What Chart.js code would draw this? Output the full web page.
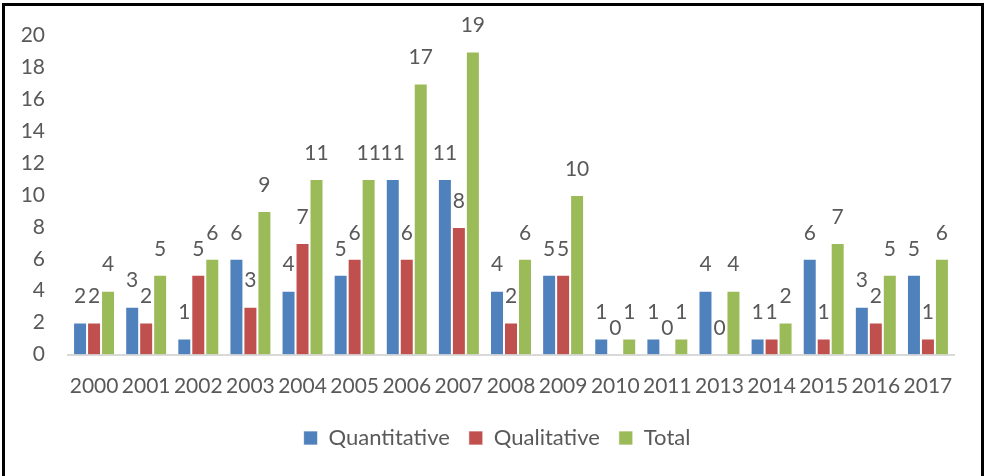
<!DOCTYPE html>
<html>
<head>
<meta charset="utf-8">
<script src="https://cdn.jsdelivr.net/npm/chart.js@4/dist/chart.umd.min.js"></script>
<style>
  html, body { margin: 0; padding: 0; background: #fff; }
  #wrap { position: relative; width: 986px; height: 476px; overflow: hidden; }
  #frame { position: absolute; left: 2px; top: 3px; width: 976px; height: 500px;
           border-left: 3px solid #000; border-top: 3px solid #000; border-right: 3px solid #000; pointer-events: none; }
  canvas { position: absolute; left: 0; top: 0; }
</style>
</head>
<body>
<div id="wrap">
  <canvas id="c" width="986" height="476"></canvas>
  <div id="frame"></div>
</div>
<script>
const categories = ['2000','2001','2002','2003','2004','2005','2006','2007','2008','2009','2010','2011','2013','2014','2015','2016','2017'];
const quantitative = [2,3,1,6,4,5,11,11,4,5,1,1,4,1,6,3,5];
const qualitative  = [2,2,5,3,7,6,6,8,2,5,0,0,0,1,1,2,1];
const total        = [4,5,6,9,11,11,17,19,6,10,1,1,4,2,7,5,6];
const yTicks = [0,2,4,6,8,10,12,14,16,18,20];

const FONT = 'Lato, "Open Sans", sans-serif';
const TXT = '#595959';

const valueLabels = {
  id: 'valueLabels',
  afterDatasetsDraw(chart) {
    const ctx = chart.ctx;
    ctx.save();
    ctx.font = '21px ' + FONT;
    ctx.fillStyle = TXT;
    ctx.textAlign = 'center';
    ctx.textBaseline = 'middle';
    chart.data.datasets.forEach((ds, i) => {
      const meta = chart.getDatasetMeta(i);
      meta.data.forEach((el, j) => {
        ctx.fillText(String(ds.data[j]), el.x, el.y - 26);
      });
    });
    ctx.restore();
  }
};

const legendShift = {
  id: 'legendShift',
  afterLayout(chart) {
    if (chart.legend) {
      chart.legend.left += 20;
      chart.legend.right += 20;
    }
  }
};

new Chart(document.getElementById('c'), {
  type: 'bar',
  data: {
    labels: categories,
    datasets: [
      { label: 'Quantitative', data: quantitative, backgroundColor: '#4F81BD' },
      { label: 'Qualitative', data: qualitative, backgroundColor: '#C0504D' },
      { label: 'Total', data: total, backgroundColor: '#9BBB59' }
    ]
  },
  options: {
    responsive: false,
    animation: false,
    devicePixelRatio: 1,
    layout: { padding: { top: 34, left: 0, right: 32, bottom: 17 } },
    datasets: {
      bar: { categoryPercentage: 0.805, barPercentage: 1, borderColor: 'rgba(255,255,255,0.7)', borderWidth: 1 }
    },
    scales: {
      x: {
        grid: { display: false, drawTicks: false },
        border: { display: true, color: '#D9D9D9', width: 2 },
        ticks: { color: TXT, font: { family: FONT, size: 21 }, padding: 19, autoSkip: false, maxRotation: 0, minRotation: 0 },
        afterFit(scale) { scale.height = 53.5; }
      },
      y: {
        min: 0, max: 20,
        grid: { display: false, drawTicks: false },
        border: { display: false },
        afterBuildTicks(scale) { scale.ticks = yTicks.map(v => ({ value: v })); },
        ticks: { color: TXT, font: { family: FONT, size: 21 }, padding: 23 },
        afterFit(scale) { scale.width = 68; }
      }
    },
    plugins: {
      legend: {
        position: 'bottom',
        labels: { color: TXT, font: { family: FONT, size: 22 }, boxWidth: 14, boxHeight: 14, padding: 19 }
      },
      tooltip: { enabled: false }
    }
  },
  plugins: [valueLabels, legendShift]
});
</script>
</body>
</html>
